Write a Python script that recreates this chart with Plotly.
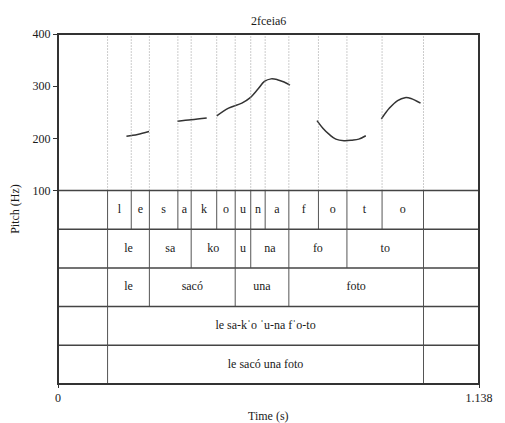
import plotly.graph_objects as go

title_text = "2fceia6"
x_max = 1.138

# Pitch contour segments (time s, Hz)
seg_times = [
    [0.185, 0.215, 0.246],
    [0.323, 0.360, 0.402],
    [0.429, 0.461, 0.497, 0.518, 0.540, 0.558, 0.576, 0.593, 0.611, 0.627],
    [0.700, 0.716, 0.734, 0.751, 0.773, 0.795, 0.813, 0.832],
    [0.874, 0.896, 0.918, 0.938, 0.954, 0.980],
]
seg_hz = [
    [204, 207.5, 213],
    [233, 235.5, 239],
    [243, 258, 267.5, 277, 294, 309, 314, 312.5, 308, 302],
    [234, 219.5, 207, 198.5, 195.5, 196.5, 198.5, 205],
    [237, 258, 272.5, 278, 276.5, 267.5],
]

# Tiers: boundaries and labels
phone_bounds = [0.134, 0.198, 0.247, 0.324, 0.360, 0.429, 0.479, 0.521, 0.560, 0.624, 0.704, 0.781, 0.876, 0.988]
phone_labels = ["l", "e", "s", "a", "k", "o", "u", "n", "a", "f", "o", "t", "o"]
syll_bounds = [0.134, 0.247, 0.360, 0.479, 0.521, 0.624, 0.781, 0.988]
syll_labels = ["le", "sa", "ko", "u", "na", "fo", "to"]
word_bounds = [0.134, 0.247, 0.479, 0.624, 0.988]
word_labels = ["le", "sacó", "una", "foto"]
phrase_bounds = [0.134, 0.988]
phrase_labels = ["le sa-kˈo ˈu-na fˈo-to"]
sent_bounds = [0.134, 0.988]
sent_labels = ["le sacó una foto"]

tiers = [
    (phone_bounds, phone_labels),
    (syll_bounds, syll_labels),
    (word_bounds, word_labels),
    (phrase_bounds, phrase_labels),
    (sent_bounds, sent_labels),
]

FONT = "Liberation Serif, 'Times New Roman', 'DejaVu Serif', serif"
TXT = "#1a1a1a"
pitch_frac = 0.4472

fig = go.Figure()

for t, h in zip(seg_times, seg_hz):
    fig.add_trace(go.Scatter(x=t, y=h, mode="lines", xaxis="x", yaxis="y",
                             line=dict(color="#333333", width=1.5, shape="spline"),
                             showlegend=False, hoverinfo="skip"))

shapes = []
# dotted boundary lines in pitch area
for b in phone_bounds:
    shapes.append(dict(type="line", xref="x", yref="y", x0=b, x1=b, y0=100, y1=400,
                       line=dict(color="#999999", width=1, dash="1px,2px")))

n = len(tiers)
for i, (bounds, labels) in enumerate(tiers):
    top = n - i
    bot = n - i - 1
    if i > 0:
        shapes.append(dict(type="line", xref="x", yref="y2", x0=0, x1=x_max, y0=top, y1=top,
                           line=dict(color="#444444", width=1.5)))
    for b in bounds:
        shapes.append(dict(type="line", xref="x", yref="y2", x0=b, x1=b, y0=bot, y1=top,
                           line=dict(color="#555555", width=1)))
    mids = [(bounds[k] + bounds[k + 1]) / 2 for k in range(len(labels))]
    fig.add_trace(go.Scatter(x=mids, y=[bot + 0.5] * len(labels), mode="text", text=labels,
                             xaxis="x", yaxis="y2", textfont=dict(family=FONT, size=12, color=TXT),
                             showlegend=False, hoverinfo="skip"))

# boundary between pitch area and tiers
shapes.append(dict(type="line", xref="paper", yref="paper", x0=0, x1=1, y0=1 - pitch_frac, y1=1 - pitch_frac,
                   line=dict(color="#444444", width=1.5)))
# frame
shapes.append(dict(type="rect", xref="paper", yref="paper", x0=0, x1=1, y0=0, y1=1,
                   line=dict(color="#333333", width=2)))

fig.update_layout(
    width=505, height=423,
    margin=dict(l=58, r=15, t=34, b=39),
    paper_bgcolor="white", plot_bgcolor="white",
    font=dict(family=FONT, size=12, color=TXT),
    showlegend=False,
    shapes=shapes,
    xaxis=dict(range=[0, x_max], anchor="y2", tickvals=[0, x_max], ticktext=["0", "1.138"],
               ticks="outside", ticklen=3, tickcolor="#333", showgrid=False, zeroline=False,
               showline=False, tickfont=dict(family=FONT, size=12, color=TXT)),
    yaxis=dict(domain=[1 - pitch_frac, 1], range=[100, 400], tickvals=[100, 200, 300, 400],
               ticks="outside", ticklen=4, tickcolor="#333", showgrid=False, zeroline=False,
               showline=False, anchor="x", tickfont=dict(family=FONT, size=12, color=TXT)),
    yaxis2=dict(domain=[0, 1 - pitch_frac], range=[0, 5], showticklabels=False, ticks="",
                showgrid=False, zeroline=False, showline=False, anchor="x"),
    annotations=[
        dict(text=title_text, xref="paper", yref="paper", x=0.5, y=1.036, showarrow=False,
             yanchor="middle", font=dict(family=FONT, size=12, color=TXT)),
        dict(text="Pitch (Hz)", xref="paper", yref="paper", x=-0.1026, y=0.5, showarrow=False,
             textangle=-90, xanchor="center", yanchor="middle", font=dict(family=FONT, size=12, color=TXT)),
        dict(text="Time (s)", xref="paper", yref="paper", x=0.5, y=-0.0915, showarrow=False,
             yanchor="middle", font=dict(family=FONT, size=12, color=TXT)),
    ],
)

fig.write_html("out.html")
